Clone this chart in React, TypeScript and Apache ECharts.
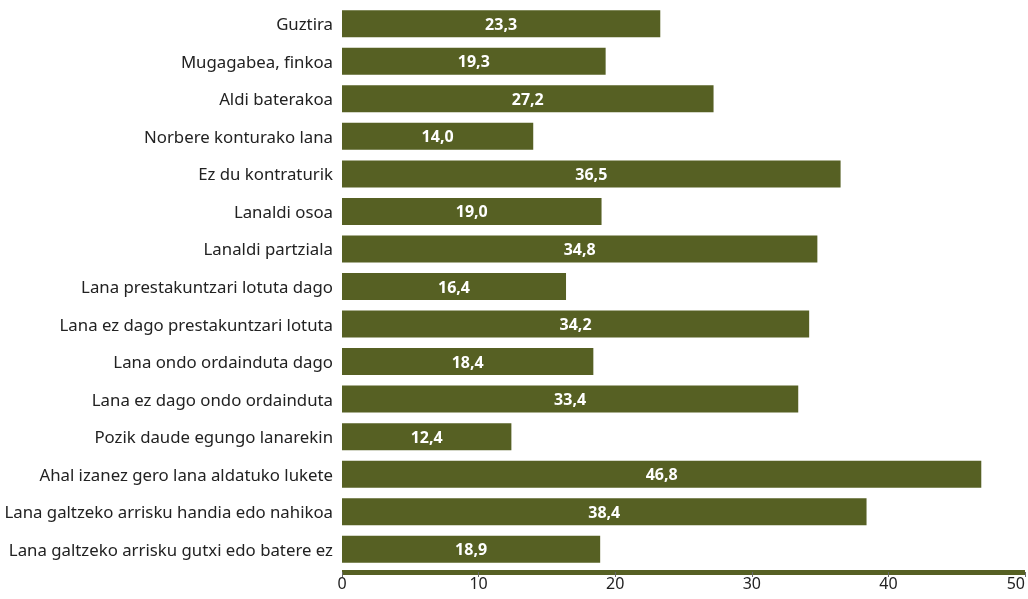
import React, { useEffect, useRef } from "react";
import * as echarts from "echarts";

const categories = [
  "Guztira",
  "Mugagabea, finkoa",
  "Aldi baterakoa",
  "Norbere konturako lana",
  "Ez du kontraturik",
  "Lanaldi osoa",
  "Lanaldi partziala",
  "Lana prestakuntzari lotuta dago",
  "Lana ez dago prestakuntzari lotuta",
  "Lana ondo ordainduta dago",
  "Lana ez dago ondo ordainduta",
  "Pozik daude egungo lanarekin",
  "Ahal izanez gero lana aldatuko lukete",
  "Lana galtzeko arrisku handia edo nahikoa",
  "Lana galtzeko arrisku gutxi edo batere ez",
];

const values = [23.3, 19.3, 27.2, 14.0, 36.5, 19.0, 34.8, 16.4, 34.2, 18.4, 33.4, 12.4, 46.8, 38.4, 18.9];

const xTicks = { min: 0, max: 50, interval: 10 };

export default function App() {
  const ref = useRef<HTMLDivElement>(null);
  useEffect(() => {
    if (!ref.current) return;
    const chart = echarts.init(ref.current, null, { renderer: "svg" });
    const olive = "#566023";
    chart.setOption({
      animation: false,
      grid: { left: 342, right: 3, top: 5, bottom: 31, containLabel: false, outerBoundsMode: "none" },
      xAxis: {
        type: "value",
        min: xTicks.min,
        max: xTicks.max,
        interval: xTicks.interval,
        offset: 4,
        splitLine: { show: false },
        axisLine: { show: true, lineStyle: { color: olive, width: 5, cap: "butt" } },
        axisTick: { show: true, length: 5, lineStyle: { color: "#666", width: 1 } },
        axisLabel: {
          color: "#222",
          fontSize: 16,
          fontFamily: "Noto Sans",
          margin: 3,
          alignMaxLabel: "right",
          formatter: (v: number) => String(v),
        },
      },
      yAxis: {
        type: "category",
        data: categories,
        inverse: true,
        axisLine: { show: false },
        axisTick: { show: false },
        axisLabel: {
          color: "#222",
          fontSize: 16.8,
          fontFamily: "Noto Sans",
          margin: 9,
        },
      },
      series: [
        {
          type: "bar",
          data: values,
          barWidth: 27,
          itemStyle: { color: olive },
          label: {
            show: true,
            position: "inside",
            color: "#fff",
            fontWeight: "bold",
            fontSize: 16,
            fontFamily: "Noto Sans",
            formatter: (p: any) => p.value.toFixed(1).replace(".", ","),
          },
        },
      ],
    });
    return () => chart.dispose();
  }, []);
  return (
    <div
      ref={ref}
      style={{ position: "fixed", left: 0, top: 0, width: 1028, height: 599 }}
    />
  );
}
